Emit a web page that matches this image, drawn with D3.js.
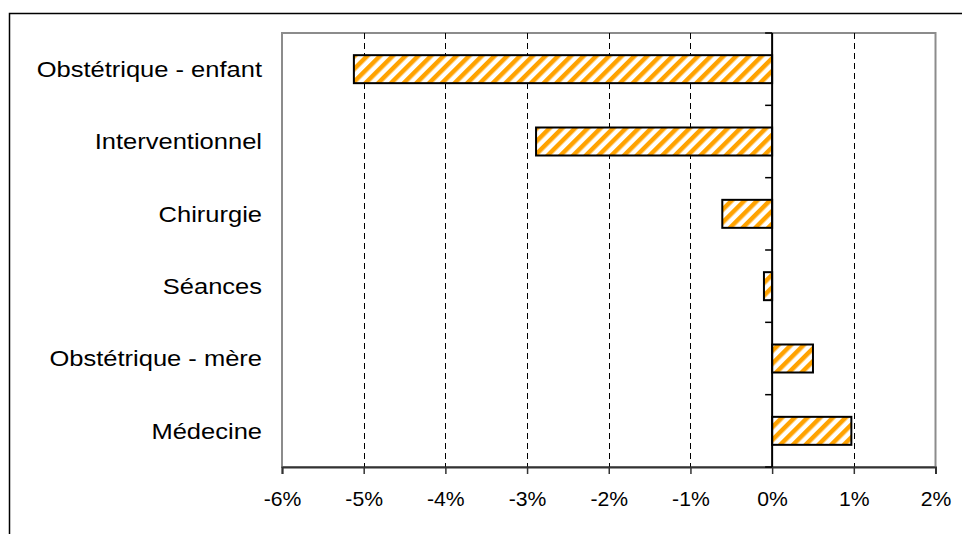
<!DOCTYPE html>
<html>
<head>
<meta charset="utf-8">
<script src="https://cdn.jsdelivr.net/npm/d3@7"></script>
<style>
  body { margin: 0; background: #fff; }
  svg { display: block; font-family: Arial, "Liberation Sans", sans-serif; }
</style>
</head>
<body>
<div class="container"></div>
<script>
var categories = ['Obstétrique - enfant', 'Interventionnel', 'Chirurgie', 'Séances', 'Obstétrique - mère', 'Médecine'];
var values = [-5.12, -2.89, -0.61, -0.1, 0.5, 0.97];
var tickValues = [-6, -5, -4, -3, -2, -1, 0, 1, 2];

var WIDTH = 962, HEIGHT = 534;
var plot = {left: 282, top: 33, right: 935.5, bottom: 467};

var svg = d3.select('.container').append('svg')
    .attr('width', WIDTH)
    .attr('height', HEIGHT);

// hatch pattern
var defs = svg.append('defs');
var pat = defs.append('pattern')
    .attr('id', 'hatch')
    .attr('patternUnits', 'userSpaceOnUse')
    .attr('width', 9)
    .attr('height', 9)
    .attr('patternTransform', 'rotate(45)');
pat.append('rect').attr('width', 9).attr('height', 9).attr('fill', '#fff');
pat.append('rect').attr('width', 4.5).attr('height', 9).attr('fill', '#ffa200');

// outer frame
svg.append('rect')
    .attr('x', 9.5).attr('y', 13.5)
    .attr('width', 980).attr('height', 560)
    .attr('fill', 'none').attr('stroke', '#000').attr('stroke-width', 1.5);

var xScale = d3.scaleLinear().domain([-6, 2]).range([plot.left, plot.right]);
var yScale = d3.scaleBand().domain(categories).range([plot.top, plot.bottom]).paddingInner(0.613).paddingOuter(0.3065);

// plot area border
svg.append('rect')
    .attr('x', plot.left).attr('y', plot.top)
    .attr('width', plot.right - plot.left).attr('height', plot.bottom - plot.top)
    .attr('fill', 'none').attr('stroke', '#8c8c8c').attr('stroke-width', 2);

// dashed grid
svg.append('g').selectAll('line')
    .data(tickValues.filter(function (d) { return d !== -6 && d !== 0 && d !== 2; }))
    .enter().append('line')
    .attr('x1', function (d) { return Math.round(xScale(d)) + 0.5; })
    .attr('x2', function (d) { return Math.round(xScale(d)) + 0.5; })
    .attr('y1', plot.top).attr('y2', plot.bottom)
    .attr('stroke', '#000').attr('stroke-width', 1)
    .attr('stroke-dasharray', '6,4');

// bars
svg.append('g').selectAll('rect')
    .data(values)
    .enter().append('rect')
    .attr('x', function (d) { return xScale(Math.min(0, d)); })
    .attr('width', function (d) { return Math.abs(xScale(d) - xScale(0)); })
    .attr('y', function (d, i) { return yScale(categories[i]); })
    .attr('height', yScale.bandwidth())
    .attr('fill', 'url(#hatch)')
    .attr('stroke', '#000').attr('stroke-width', 2);

// x axis
var xAxis = svg.append('g')
    .attr('transform', 'translate(0,' + plot.bottom + ')')
    .call(d3.axisBottom(xScale).tickValues(tickValues).tickSize(7)
        .tickFormat(function (d) { return d + '%'; }));
xAxis.select('.domain').attr('stroke', '#333').attr('stroke-width', 2);
xAxis.selectAll('.tick line').attr('stroke', '#333').attr('stroke-width', 1.5);
xAxis.selectAll('.tick text')
    .attr('font-size', 20).attr('fill', '#000')
    .attr('font-family', 'Arial, "Liberation Sans", sans-serif')
    .attr('y', 39).attr('dy', 0)
    .attr('transform', 'scale(1.06,1)');

// zero axis with category boundary ticks
var zx = xScale(0);
var boundaries = d3.range(categories.length + 1).map(function (i) {
    return plot.top + i * yScale.step();
});
var zeroAxis = svg.append('g');
zeroAxis.append('line')
    .attr('x1', zx).attr('x2', zx)
    .attr('y1', plot.top).attr('y2', plot.bottom)
    .attr('stroke', '#000').attr('stroke-width', 2);
zeroAxis.selectAll('.bt')
    .data(boundaries)
    .enter().append('line')
    .attr('x1', zx - 7).attr('x2', zx)
    .attr('y1', function (d) { return d; })
    .attr('y2', function (d) { return d; })
    .attr('stroke', '#000').attr('stroke-width', 1.5);

// category labels
svg.append('g').selectAll('g')
    .data(categories)
    .enter().append('g')
    .attr('transform', function (d) {
        return 'translate(262,' + (yScale(d) + yScale.bandwidth() / 2) + ') scale(1.17,1)';
    })
    .append('text')
    .attr('dy', '0.36em')
    .attr('text-anchor', 'end')
    .attr('font-size', 21.8)
    .attr('fill', '#000')
    .text(function (d) { return d; });
</script>
</body>
</html>
